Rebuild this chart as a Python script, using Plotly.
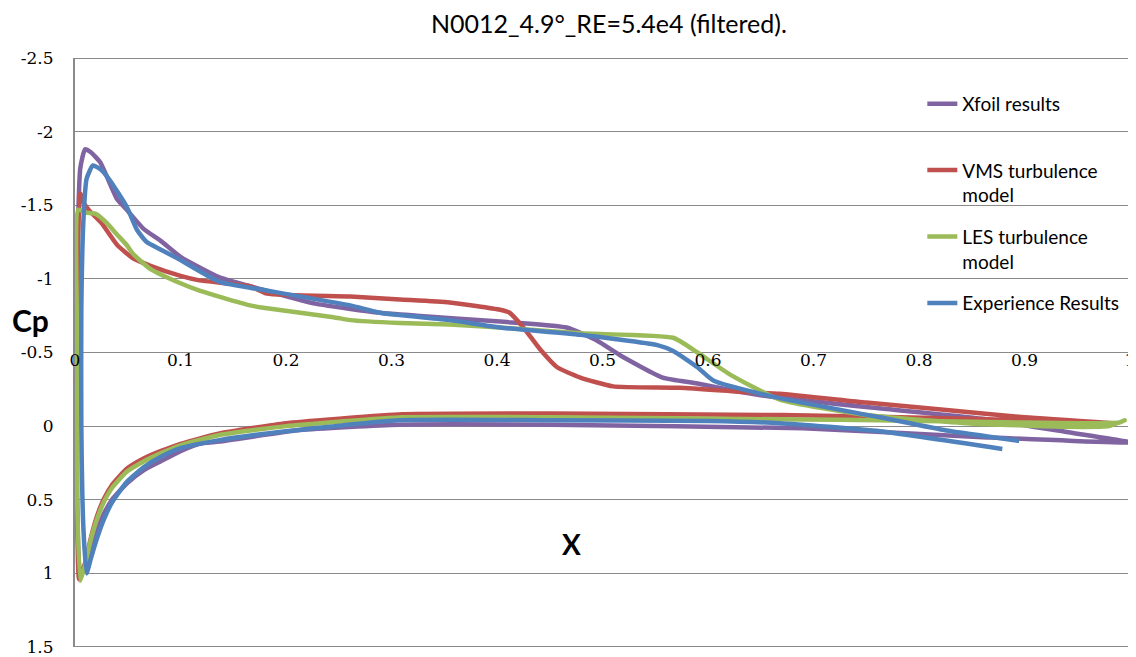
import plotly.graph_objects as go

# ---------------- data ----------------
title_text = "N0012_4.9°_RE=5.4e4 (filtered)."
series_names = ["Xfoil results", "VMS turbulence<br>model", "LES turbulence<br>model", "Experience Results"]
series_colors = ["#8064A2", "#C0504D", "#9BBB59", "#4F81BD"]

x_ticks = [0, 0.1, 0.2, 0.3, 0.4, 0.5, 0.6, 0.7, 0.8, 0.9, 1.0]
x_tick_labels = ["0", "0.1", "0.2", "0.3", "0.4", "0.5", "0.6", "0.7", "0.8", "0.9", "1"]
y_ticks = [-2.5, -2, -1.5, -1, -0.5, 0, 0.5, 1, 1.5]
y_tick_labels = ["-2.5", "-2", "-1.5", "-1", "-0.5", "0", "0.5", "1", "1.5"]

# Xfoil: lower surface from trailing edge to leading edge, then upper surface to trailing edge
xfoil_x = [1.0, 0.86, 0.69, 0.45, 0.308, 0.213, 0.137, 0.118, 0.1, 0.081, 0.065, 0.049, 0.035, 0.027, 0.017, 0.01, 0.005,
           0.002, 0.001, 0.002, 0.003, 0.005, 0.0095, 0.015, 0.024, 0.04, 0.049, 0.065, 0.081, 0.1, 0.137, 0.166, 0.229,
           0.289, 0.324, 0.403, 0.466, 0.495, 0.517, 0.557, 0.59, 0.621, 0.65, 0.75, 0.86, 0.94, 1.0]
xfoil_cp = [0.11, 0.075, 0.015, -0.01, -0.01, 0.027, 0.105, 0.12, 0.17, 0.24, 0.3, 0.39, 0.5, 0.6, 0.77, 0.93, 1.01,
            0.6, 0.0, -0.7, -1.4, -1.75, -1.88, -1.86, -1.79, -1.54, -1.47, -1.34, -1.26, -1.15, -1.01, -0.95, -0.83,
            -0.77, -0.75, -0.71, -0.67, -0.58, -0.48, -0.33, -0.29, -0.245, -0.21, -0.13, -0.05, 0.04, 0.11]

vms_x = [0.98, 0.85, 0.67, 0.45, 0.31, 0.25, 0.2, 0.137, 0.1, 0.081, 0.065, 0.049, 0.035, 0.027, 0.02, 0.014, 0.01, 0.004,
         0.002, 0.002, 0.003, 0.005, 0.008, 0.014, 0.025, 0.04, 0.055, 0.071, 0.1, 0.118, 0.166, 0.182, 0.261, 0.308,
         0.355, 0.403, 0.412, 0.425, 0.441, 0.457, 0.479, 0.51, 0.573, 0.637, 0.668, 0.75, 0.826, 0.9, 0.984]
vms_cp = [-0.02, -0.05, -0.075, -0.085, -0.08, -0.05, -0.02, 0.05, 0.12, 0.17, 0.22, 0.29, 0.4, 0.5, 0.63, 0.79, 0.92, 1.04,
          0.5, -0.7, -1.3, -1.58, -1.52, -1.46, -1.38, -1.23, -1.14, -1.09, -1.02, -0.99, -0.95, -0.9, -0.88, -0.86,
          -0.84, -0.79, -0.77, -0.67, -0.52, -0.40, -0.33, -0.27, -0.26, -0.23, -0.22, -0.16, -0.11, -0.06, -0.02]

les_x = [0.995, 0.99, 0.95, 0.85, 0.76, 0.69, 0.45, 0.31, 0.25, 0.2, 0.137, 0.1, 0.081, 0.065, 0.049, 0.035, 0.027, 0.02,
         0.014, 0.01, 0.005, 0.002, 0.002, 0.003, 0.01, 0.02, 0.03, 0.04, 0.049, 0.055, 0.071, 0.1, 0.118, 0.166, 0.182,
         0.245, 0.261, 0.308, 0.355, 0.403, 0.479, 0.567, 0.59, 0.621, 0.668, 0.75, 0.845, 0.94, 0.98, 0.995]
les_cp = [-0.04, -0.025, -0.02, -0.03, -0.04, -0.045, -0.06, -0.06, -0.03, 0.0, 0.06, 0.13, 0.185, 0.24, 0.31, 0.42, 0.52,
          0.65, 0.8, 0.93, 1.05, 0.47, -0.6, -1.47, -1.45, -1.44, -1.38, -1.3, -1.23, -1.17, -1.07, -0.97, -0.92, -0.82,
          -0.80, -0.74, -0.72, -0.70, -0.69, -0.67, -0.63, -0.60, -0.50, -0.35, -0.18, -0.075, -0.02, 0.005, 0.0, -0.04]

exp_x = [0.879, 0.763, 0.668, 0.6, 0.45, 0.308, 0.2, 0.137, 0.1, 0.081, 0.065, 0.049, 0.035, 0.027, 0.02, 0.015, 0.011,
         0.008, 0.006, 0.006, 0.008, 0.011, 0.017, 0.025, 0.033, 0.049, 0.059, 0.068, 0.081, 0.097, 0.137, 0.166, 0.261,
         0.289, 0.355, 0.403, 0.479, 0.552, 0.567, 0.59, 0.605, 0.668, 0.763, 0.826, 0.895]
exp_cp = [0.155, 0.035, -0.02, -0.035, -0.04, -0.04, 0.035, 0.095, 0.15, 0.21, 0.28, 0.38, 0.52, 0.64, 0.78, 0.9, 1.0,
          0.7, 0.0, -0.8, -1.4, -1.68, -1.77, -1.74, -1.67, -1.49, -1.33, -1.25, -1.2, -1.14, -0.98, -0.94, -0.82,
          -0.77, -0.72, -0.67, -0.62, -0.55, -0.51, -0.40, -0.31, -0.19, -0.06, 0.03, 0.10]

series_x = [xfoil_x, vms_x, les_x, exp_x]
series_cp = [xfoil_cp, vms_cp, les_cp, exp_cp]

# ---------------- figure ----------------
fig = go.Figure()
for i, (name, col, xs, ys) in enumerate(zip(series_names, series_colors, series_x, series_cp)):
    label = name if "<br>" in name else name + "<br> "
    fig.add_trace(go.Scatter(x=xs, y=ys, mode="lines", name=label,
                             line=dict(color=col, width=4.5, shape="spline", smoothing=0.5),
                             legendgroup=str(i)))

grid_col = "#8a8a8a"
tick_font = dict(family="DejaVu Serif", size=17, color="black")

# border lines at the ends of the value axis (Excel draws them as gridlines)
for yv in (y_ticks[0], y_ticks[-1]):
    fig.add_shape(type="line", xref="paper", yref="y", x0=0, x1=1, y0=yv, y1=yv,
                  line=dict(color=grid_col, width=2), layer="below")

fig.update_layout(
    width=1128, height=649,
    margin=dict(l=67, r=0, t=50, b=10, autoexpand=False),
    paper_bgcolor="white", plot_bgcolor="white",
    showlegend=True,
    legend=dict(x=0.7986, y=0.9544, xanchor="left", yanchor="top", bgcolor="rgba(0,0,0,0)",
                font=dict(family="Lato", size=19, color="black"), valign="top",
                tracegroupgap=14, traceorder="grouped"),
    xaxis=dict(range=[0, 1.0057], anchor="free", position=0.508, showgrid=False, zeroline=False,
               showline=False, tickvals=x_ticks, ticktext=x_tick_labels, ticks="",
               tickfont=tick_font, ticklabelstandoff=0, automargin=False, ticklabeloverflow="allow"),
    yaxis=dict(range=[1.5, -2.5], showgrid=True, gridcolor=grid_col, gridwidth=1, zeroline=False,
               showline=True, linecolor=grid_col, linewidth=2, tickvals=y_ticks, ticktext=y_tick_labels,
               ticks="", tickfont=tick_font, ticklabelstandoff=16, automargin=False, ticklabeloverflow="allow"),
    annotations=[
        dict(text=title_text, xref="paper", yref="paper", x=0.503, y=1, yshift=35, showarrow=False,
             font=dict(family="Lato", size=25, color="black"), xanchor="center", yanchor="middle"),
        dict(text="<b>Cp</b>", xref="paper", yref="y", x=0, xshift=-45, y=-0.72, showarrow=False,
             font=dict(family="Lato", size=30, color="black"), xanchor="center", yanchor="middle"),
        dict(text="<b>X</b>", xref="x", yref="y", x=0.471, y=0.8, showarrow=False,
             font=dict(family="Lato", size=28, color="black"), xanchor="center", yanchor="middle"),
    ],
)

fig.write_html("out.html")
